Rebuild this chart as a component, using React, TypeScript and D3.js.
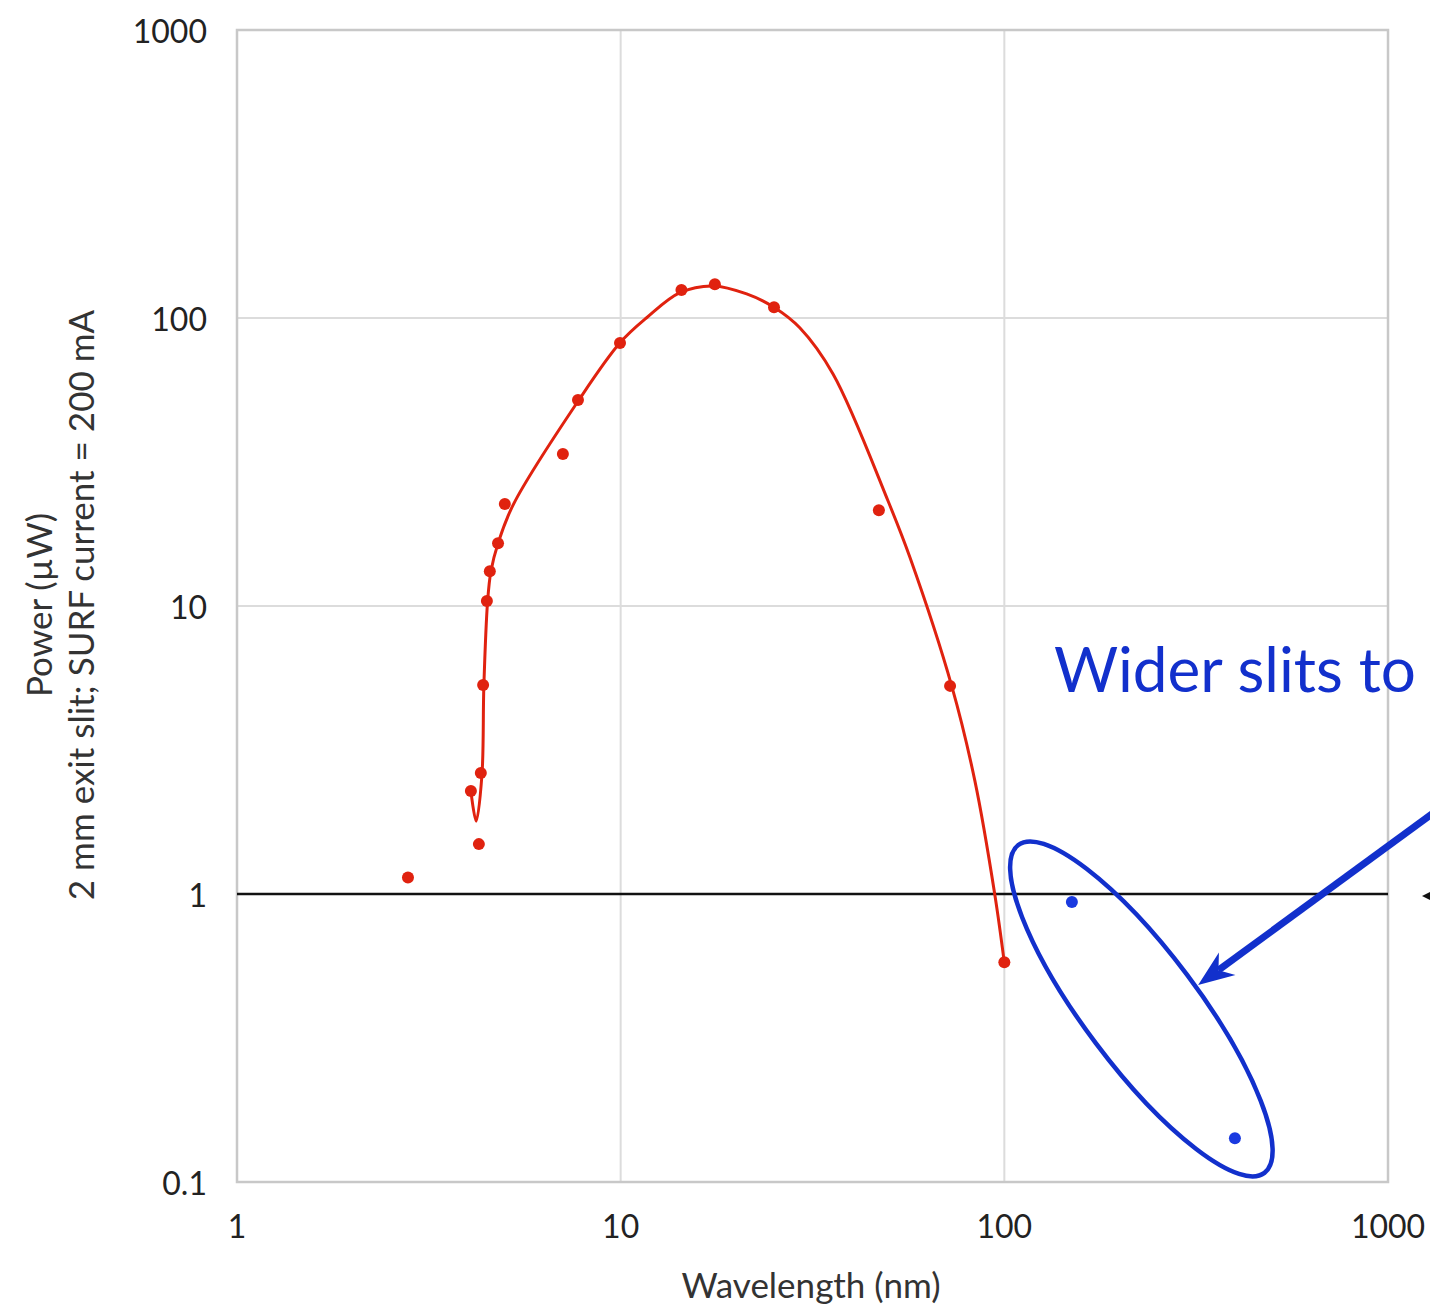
import React from 'react'
import * as d3 from 'd3'

// measured points (nm, µW)
const wavelength = [2.79, 4.07, 4.27, 4.32, 4.38, 4.48, 4.56, 4.79, 4.99, 7.07, 7.74, 9.96, 14.4, 17.6, 25.1, 47.1, 72.2, 100]
const power = [1.14, 2.28, 1.49, 2.63, 5.32, 10.4, 13.2, 16.5, 22.6, 33.7, 51.9, 81.9, 125, 131, 109, 21.5, 5.28, 0.58]

// wider slits points
const widerWavelength = [150, 399]
const widerPower = [0.938, 0.142]

// smooth fit curve nodes
const fitWavelength = [4.07, 4.2, 4.35, 4.4, 4.5, 4.59, 4.79, 5.25, 7.75, 9.96, 11.69, 14.27, 17.43, 21.3, 25.2, 29.3, 35.8, 49.8, 56.8, 73.0, 83.8, 94.5, 100]
const fitPower = [2.28, 1.79, 2.6, 5.3, 10.4, 13.2, 16.5, 22.5, 51.5, 82, 100.2, 122.4, 129.2, 121.2, 108.6, 92.5, 63.8, 23.1, 14.7, 5.25, 2.47, 0.99, 0.577]

const xTicks = [1, 10, 100, 1000]
const yTicks = [0.1, 1, 10, 100, 1000]
const xTickLabels = ['1', '10', '100', '1000']
const yTickLabels = ['0.1', '1', '10', '100', '1000']

export default function App() {
  const W = 1430, H = 1305
  const x = d3.scaleLog().domain([1, 1000]).range([237, 1388])
  const y = d3.scaleLog().domain([0.1, 1000]).range([1182, 30])
  const font = 'Lato, "Open Sans", sans-serif'
  const red = '#e0220f'
  const blue = '#1230cc'

  const fit = fitWavelength.map((w, i) => [x(w), y(fitPower[i])] as [number, number])
  const fitPath = d3.line().curve(d3.curveCatmullRom.alpha(0.5))(fit) || ''

  // arrow geometry
  const tip: [number, number] = [x(320), y(0.483)]
  const tail: [number, number] = [1440, 808]
  const dx = tail[0] - tip[0], dy = tail[1] - tip[1]
  const len = Math.sqrt(dx * dx + dy * dy)
  const u = [dx / len, dy / len]
  const p = [-u[1], u[0]]
  const L = 36, hw = 14
  const b1 = [tip[0] + L * u[0] + hw * p[0], tip[1] + L * u[1] + hw * p[1]]
  const b2 = [tip[0] + L * u[0] - hw * p[0], tip[1] + L * u[1] - hw * p[1]]
  const notch = [tip[0] + 0.7 * L * u[0], tip[1] + 0.7 * L * u[1]]

  const ell = { cx: x(227.6), cy: y(0.399) }

  return (
    <svg width={W} height={H} style={{ position: 'absolute', left: 0, top: 0, background: '#fff' }}>
      {/* grid */}
      {[10, 100].map(t => (
        <line key={'vx' + t} x1={x(t)} x2={x(t)} y1={30} y2={1182} stroke="#dcdcdc" strokeWidth={2} />
      ))}
      {[10, 100].map(t => (
        <line key={'hy' + t} x1={237} x2={1388} y1={y(t)} y2={y(t)} stroke="#dcdcdc" strokeWidth={2} />
      ))}
      <rect x={237} y={30} width={1388 - 237} height={1182 - 30} fill="none" stroke="#c8c8c8" strokeWidth={2.5} />
      {/* reference line at 1 µW */}
      <line x1={237} x2={1388} y1={y(1)} y2={y(1)} stroke="#111" strokeWidth={2.5} />

      {/* tick labels */}
      {yTicks.map((t, i) => (
        <text key={'yt' + t} x={207} y={y(t)} textAnchor="end" dominantBaseline="central"
          fontFamily={font} fontSize={32} fill="#222">{yTickLabels[i]}</text>
      ))}
      {xTicks.map((t, i) => (
        <text key={'xt' + t} x={x(t)} y={1225} textAnchor="middle" dominantBaseline="central"
          fontFamily={font} fontSize={32} fill="#222">{xTickLabels[i]}</text>
      ))}

      {/* axis titles */}
      <text x={811} y={1284} textAnchor="middle" dominantBaseline="central" fontFamily={font} fontSize={35} fill="#333">
        Wavelength (nm)
      </text>
      <g transform="translate(38,605) rotate(-90)">
        <text x={0} y={0} textAnchor="middle" dominantBaseline="central" fontFamily={font} fontSize={35} fill="#333">
          Power (µW)
        </text>
      </g>
      <g transform="translate(80,605) rotate(-90)">
        <text x={0} y={0} textAnchor="middle" dominantBaseline="central" fontFamily={font} fontSize={35} fill="#333">
          2 mm exit slit; SURF current = 200 mA
        </text>
      </g>

      {/* fit curve */}
      <path d={fitPath} fill="none" stroke={red} strokeWidth={3} />

      {/* data points */}
      {wavelength.map((w, i) => (
        <circle key={'r' + i} cx={x(w)} cy={y(power[i])} r={6} fill={red} />
      ))}
      {widerWavelength.map((w, i) => (
        <circle key={'b' + i} cx={x(w)} cy={y(widerPower[i])} r={6} fill="#1a3ae0" />
      ))}

      {/* annotation */}
      <ellipse cx={ell.cx} cy={ell.cy} rx={205} ry={57} fill="none" stroke={blue} strokeWidth={4.5}
        transform={`rotate(53.1, ${ell.cx}, ${ell.cy})`} />
      <line x1={tail[0]} y1={tail[1]} x2={notch[0]} y2={notch[1]} stroke={blue} strokeWidth={7} />
      <path d={`M${tip[0]},${tip[1]}L${b1[0]},${b1[1]}L${notch[0]},${notch[1]}L${b2[0]},${b2[1]}Z`} fill={blue} />
      <text x={1054} y={668} dominantBaseline="central" fontFamily={font} fontSize={62} fill={blue}>
        Wider slits to
      </text>
      <path d={`M${1422},${y(1) + 2}L${1434},${y(1) - 4}L${1434},${y(1) + 8}Z`} fill="#111" />
    </svg>
  )
}
